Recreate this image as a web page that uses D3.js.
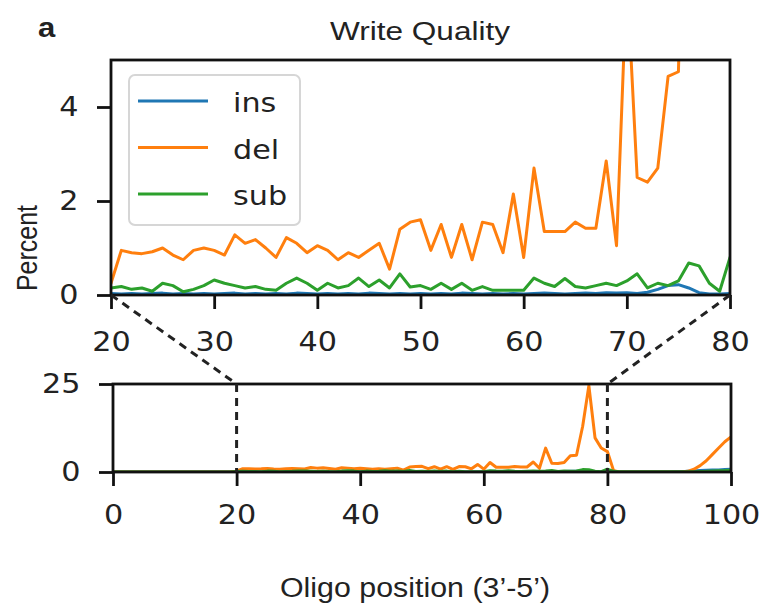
<!DOCTYPE html>
<html>
<head>
<meta charset="utf-8">
<script src="https://cdn.jsdelivr.net/npm/d3@7"></script>
<style>
  body { margin: 0; background: #fff; }
  svg { display: block; }
  .tick text { font-family: "DejaVu Sans"; font-size: 27px; fill: #222; }
  .tick line { stroke: #111; stroke-width: 2.8; }
</style>
</head>
<body>
<svg id="chart" width="761" height="605"></svg>
<script>
// Oligo positions 0..100 (x categories)
const positions = d3.range(0, 101);

// Error rates per position (percent)
const insValues = [
  0, 0, 0, 0, 0, 0, 0, 0, 0, 0,
  0, 0, 0, 0, 0, 0, 0, 0, 0, 0,
  0.03, 0.02, 0.03, 0.02, 0.03, 0.04, 0.02, 0.03, 0.02, 0.03,
  0.02, 0.03, 0.04, 0.02, 0.03, 0.02, 0.03, 0.02, 0.04, 0.03,
  0.02, 0.03, 0.02, 0.03, 0.02, 0.04, 0.03, 0.02, 0.03, 0.02,
  0.03, 0.02, 0.03, 0.02, 0.04, 0.03, 0.02, 0.03, 0.02, 0.03,
  0.02, 0.03, 0.04, 0.03, 0.02, 0.03, 0.04, 0.03, 0.05, 0.04,
  0.05, 0.03, 0.06, 0.12, 0.2, 0.22, 0.15, 0.05, 0.02, 0.02,
  0.03, 0.02, 0.01, 0.01, 0.01, 0.01, 0.01, 0.01, 0.01, 0.02,
  0.02, 0.05, 0.1, 0.2, 0.3, 0.4, 0.5, 0.6, 0.6, 0.7,
  0.8
];
const delValues = [
  0, 0, 0, 0, 0, 0, 0, 0, 0, 0,
  0, 0, 0, 0, 0, 0, 0, 0, 0, 0,
  0.25, 0.95, 0.9, 0.88, 0.92, 1.0, 0.85, 0.75, 0.95, 1.0,
  0.95, 0.85, 1.28, 1.1, 1.18, 1.0, 0.8, 1.22, 1.1, 0.9,
  1.05, 0.95, 0.75, 0.9, 0.8, 0.95, 1.1, 0.55, 1.4, 1.55,
  1.6, 0.95, 1.5, 0.8, 1.5, 0.75, 1.55, 1.5, 0.9, 2.15,
  0.8, 2.7, 1.35, 1.35, 1.35, 1.55, 1.42, 1.42, 2.85, 1.05,
  6.8, 2.5, 2.4, 2.7, 4.65, 4.75, 13, 24.5, 9.7, 6.8,
  5.8, 0.4, 0, 0, 0, 0, 0, 0, 0, 0,
  0, 0, 0, 0.2, 0.8, 1.8, 3.2, 5, 6.8, 8.6,
  10
];
const subValues = [
  0, 0, 0, 0, 0, 0, 0, 0, 0, 0,
  0, 0, 0, 0, 0, 0, 0, 0, 0, 0,
  0.15, 0.18, 0.12, 0.15, 0.08, 0.25, 0.2, 0.07, 0.12, 0.2,
  0.32, 0.25, 0.2, 0.15, 0.18, 0.12, 0.1, 0.25, 0.36, 0.25,
  0.1, 0.25, 0.15, 0.2, 0.36, 0.18, 0.32, 0.15, 0.45, 0.17,
  0.2, 0.12, 0.25, 0.12, 0.25, 0.1, 0.18, 0.1, 0.1, 0.1,
  0.1, 0.36, 0.25, 0.18, 0.35, 0.18, 0.15, 0.2, 0.25, 0.2,
  0.3, 0.45, 0.15, 0.25, 0.2, 0.3, 0.68, 0.62, 0.25, 0.08,
  0.8, 0.2, 0.05, 0.05, 0.05, 0.05, 0.05, 0.05, 0.05, 0.05,
  0.05, 0.05, 0.05, 0.05, 0.1, 0.15, 0.2, 0.3, 0.35, 0.4,
  0.5
];

const seriesNames = ["ins", "del", "sub"];
const seriesColors = ["#1f77b4", "#ff7f0e", "#2ca02c"];
const series = [insValues, delValues, subValues];

// Tick labels
const topXTicks = [20, 30, 40, 50, 60, 70, 80];
const topYTicks = [0, 2, 4];
const bottomXTicks = [0, 20, 40, 60, 80, 100];
const bottomYTicks = [0, 25];
const zoomRange = [20, 80];

const svg = d3.select("#chart");
const stretch = 1.12; // the picture is a little wider than tall

// Scales for the two panels
const xTop = d3.scaleLinear().domain(zoomRange).range([111, 730]);
const yTop = d3.scaleLinear().domain([0, 5]).range([295, 60]);
const xBot = d3.scaleLinear().domain([0, 100]).range([113, 731]);
const yBot = d3.scaleLinear().domain([0, 25]).range([472, 384]);

// Clip paths so lines stay inside each panel
const defs = svg.append("defs");
defs.append("clipPath").attr("id", "clipTop")
  .append("rect").attr("x", xTop.range()[0]).attr("y", yTop.range()[1])
  .attr("width", xTop.range()[1] - xTop.range()[0]).attr("height", yTop.range()[0] - yTop.range()[1]);
defs.append("clipPath").attr("id", "clipBot")
  .append("rect").attr("x", xBot.range()[0]).attr("y", yBot.range()[1])
  .attr("width", xBot.range()[1] - xBot.range()[0]).attr("height", yBot.range()[0] - yBot.range()[1]);

function drawPanel(x, y, clipId) {
  const line = d3.line()
    .x((d, i) => x(positions[i]))
    .y(d => y(d));
  const g = svg.append("g").attr("clip-path", `url(#${clipId})`);
  series.forEach((vals, idx) => {
    g.append("path")
      .datum(vals)
      .attr("d", line)
      .attr("fill", "none")
      .attr("stroke", seriesColors[idx])
      .attr("stroke-width", 3)
      .attr("stroke-linejoin", "round");
  });
  // frame
  svg.append("rect")
    .attr("x", x.range()[0]).attr("y", y.range()[1])
    .attr("width", x.range()[1] - x.range()[0])
    .attr("height", y.range()[0] - y.range()[1])
    .attr("fill", "none").attr("stroke", "#111").attr("stroke-width", 2.8);
}

drawPanel(xTop, yTop, "clipTop");
drawPanel(xBot, yBot, "clipBot");

// Axes
function styleAxis(g) {
  g.select(".domain").remove();
  g.selectAll(".tick text").attr("transform", `scale(${stretch},1)`);
}
const fmt = d3.format("d");
svg.append("g").attr("transform", `translate(0,${yTop.range()[0]})`)
  .call(d3.axisBottom(xTop).tickValues(topXTicks).tickFormat(fmt).tickSize(14).tickPadding(23))
  .call(styleAxis);
svg.append("g").attr("transform", `translate(${xTop.range()[0]},0)`)
  .call(d3.axisLeft(yTop).tickValues(topYTicks).tickFormat(fmt).tickSize(14).tickPadding(15))
  .call(styleAxis);
svg.append("g").attr("transform", `translate(0,${yBot.range()[0]})`)
  .call(d3.axisBottom(xBot).tickValues(bottomXTicks).tickFormat(fmt).tickSize(14).tickPadding(19))
  .call(styleAxis);
svg.append("g").attr("transform", `translate(${xBot.range()[0]},0)`)
  .call(d3.axisLeft(yBot).tickValues(bottomYTicks).tickFormat(fmt).tickSize(14).tickPadding(15))
  .call(styleAxis);

// Legend
const legend = svg.append("g");
legend.append("rect")
  .attr("x", 129).attr("y", 75).attr("width", 171).attr("height", 150)
  .attr("rx", 6).attr("fill", "#fff").attr("fill-opacity", 0.85)
  .attr("stroke", "#d6d6d6").attr("stroke-width", 2);
seriesNames.forEach((name, idx) => {
  const ly = 101 + idx * 46.5;
  legend.append("line")
    .attr("x1", 138).attr("x2", 208).attr("y1", ly).attr("y2", ly)
    .attr("stroke", seriesColors[idx]).attr("stroke-width", 3);
  legend.append("text")
    .attr("transform", `translate(233,${ly + 11}) scale(${stretch},1)`)
    .attr("font-family", "DejaVu Sans").attr("font-size", 27).attr("fill", "#222")
    .text(name);
});

// Zoom connectors (dashed)
const dash = svg.append("g")
  .attr("stroke", "#222").attr("stroke-width", 3)
  .attr("stroke-dasharray", "8,6").attr("fill", "none");
zoomRange.forEach(v => {
  dash.append("line")
    .attr("x1", xTop(v)).attr("y1", yTop(0))
    .attr("x2", xBot(v)).attr("y2", yBot(25));
  dash.append("line")
    .attr("x1", xBot(v)).attr("y1", yBot(25))
    .attr("x2", xBot(v)).attr("y2", yBot(0));
});

// Texts
svg.append("text")
  .attr("transform", `translate(38,37) scale(1.15,1)`)
  .attr("font-family", "Liberation Sans").attr("font-weight", "bold")
  .attr("font-size", 27).attr("fill", "#222")
  .text("a");
svg.append("text")
  .attr("x", 330).attr("y", 40)
  .attr("textLength", 180).attr("lengthAdjust", "spacingAndGlyphs")
  .attr("font-family", "Liberation Sans").attr("font-size", 25).attr("fill", "#222")
  .text("Write Quality");
svg.append("text")
  .attr("x", 280).attr("y", 597)
  .attr("textLength", 270).attr("lengthAdjust", "spacingAndGlyphs")
  .attr("font-family", "Liberation Sans").attr("font-size", 27).attr("fill", "#222")
  .text("Oligo position (3’-5’)");
svg.append("text")
  .attr("transform", "translate(37,248) rotate(-90) scale(1,1.17)")
  .attr("text-anchor", "middle")
  .attr("font-family", "Liberation Sans").attr("font-size", 25).attr("fill", "#222")
  .text("Percent");
</script>
</body>
</html>
